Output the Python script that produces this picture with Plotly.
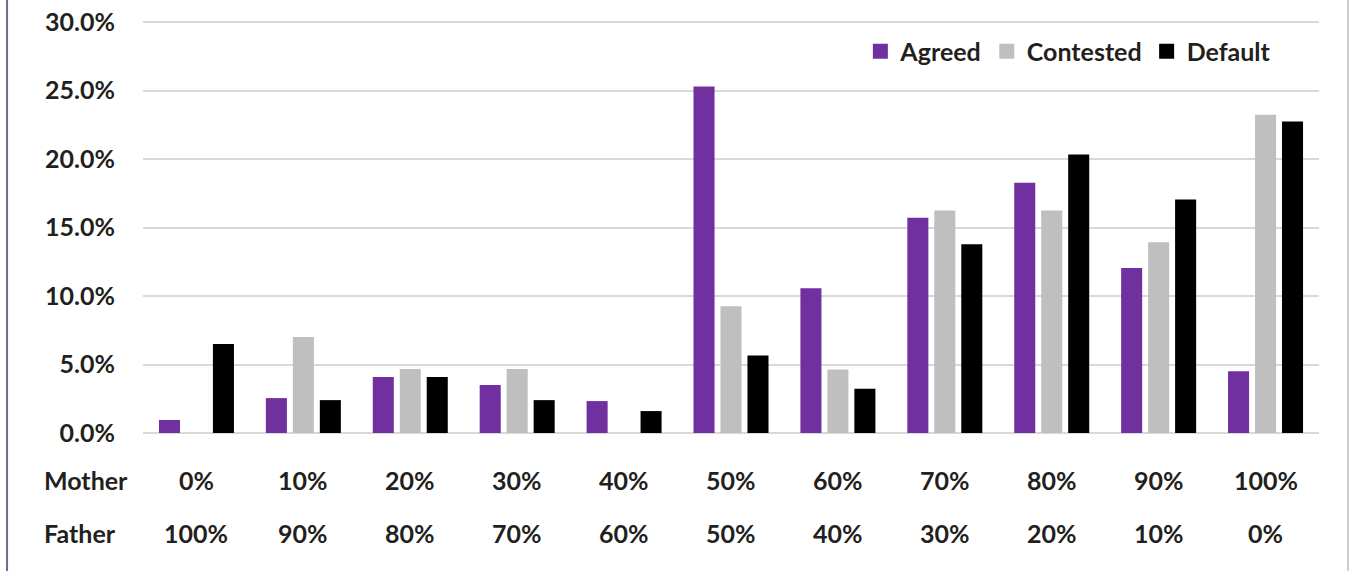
import plotly.graph_objects as go

# Share of cases by parenting-time split, by case type
categories = ["0%", "10%", "20%", "30%", "40%", "50%", "60%", "70%", "80%", "90%", "100%"]
mother_share = ["0%", "10%", "20%", "30%", "40%", "50%", "60%", "70%", "80%", "90%", "100%"]
father_share = ["100%", "90%", "80%", "70%", "60%", "50%", "40%", "30%", "20%", "10%", "0%"]

agreed = [0.95, 2.55, 4.08, 3.50, 2.33, 25.30, 10.57, 15.72, 18.27, 12.05, 4.50]
contested = [0.0, 7.00, 4.67, 4.67, 0.0, 9.26, 4.64, 16.25, 16.25, 13.92, 23.23]
default = [6.50, 2.40, 4.08, 2.40, 1.60, 5.66, 3.23, 13.78, 20.33, 17.05, 22.74]

y_ticks = [0, 5, 10, 15, 20, 25, 30]
y_tick_text = [f"{v:.1f}%" for v in y_ticks]

series = [
    ("Agreed", agreed, "#7030A0"),
    ("Contested", contested, "#BFBFBF"),
    ("Default", default, "#000000"),
]

FONT = "Lato"
TEXT_COLOR = "#231F20"
FSIZE = 25

fig = go.Figure()
for name, vals, color in series:
    fig.add_trace(go.Bar(
        name=name,
        x=categories,
        y=vals,
        marker=dict(color=color, line=dict(width=0)),
        showlegend=False,
    ))

# Legend entries with larger square swatches
for name, _, color in series:
    fig.add_trace(go.Scatter(
        name=name, x=[None], y=[None], mode="markers",
        marker=dict(symbol="square", size=15, color=color),
        showlegend=True,
    ))

# Two-row category labels under the axis
row_labels = [("Mother", mother_share, -0.114), ("Father", father_share, -0.241)]
annotations = []
for label, values, ypos in row_labels:
    annotations.append(dict(
        text=f"<b>{label}</b>", xref="paper", yref="paper",
        x=-0.0859, y=ypos, xanchor="left", yanchor="middle",
        showarrow=False, font=dict(family=FONT, size=FSIZE, color=TEXT_COLOR),
    ))
    for cat, val in zip(categories, values):
        annotations.append(dict(
            text=f"<b>{val}</b>", xref="x", yref="paper",
            x=cat, y=ypos, xanchor="center", yanchor="middle",
            showarrow=False, font=dict(family=FONT, size=FSIZE, color=TEXT_COLOR),
        ))

# Outer frame lines at the left and right edges
shapes = [
    dict(type="line", xref="paper", yref="paper", x0=-0.1156, x1=-0.1156,
         y0=-0.34, y1=1.06, line=dict(color="#6F6990", width=2)),
    dict(type="line", xref="paper", yref="paper", x0=1.0247, x1=1.0247,
         y0=-0.34, y1=1.06, line=dict(color="#CFC8D8", width=2)),
]

fig.update_layout(
    width=1349, height=571,
    margin=dict(l=143, r=30, t=20, b=138),
    paper_bgcolor="white", plot_bgcolor="white",
    barmode="group", bargap=0.243, bargroupgap=0.22,
    font=dict(family=FONT, color=TEXT_COLOR),
    showlegend=True,
    legend=dict(
        orientation="h", x=0.610, y=0.924, xanchor="left", yanchor="middle",
        font=dict(family=FONT, size=FSIZE, color=TEXT_COLOR, weight="bold"),
        bgcolor="rgba(0,0,0,0)", traceorder="normal",
    ),
    xaxis=dict(showticklabels=False, showgrid=False, zeroline=False,
               showline=False, ticks=""),
    yaxis=dict(
        range=[0, 30.15], tickvals=y_ticks, ticktext=y_tick_text,
        automargin=False,
        showgrid=True, gridcolor="#D9D9D9", gridwidth=1.5,
        zeroline=True, zerolinecolor="#D9D9D9", zerolinewidth=1.5,
        showline=False, ticks="", ticklabelstandoff=27,
        tickfont=dict(family=FONT, size=FSIZE, color=TEXT_COLOR, weight="bold"),
    ),
    annotations=annotations,
    shapes=shapes,
)

fig.write_html("out.html")
